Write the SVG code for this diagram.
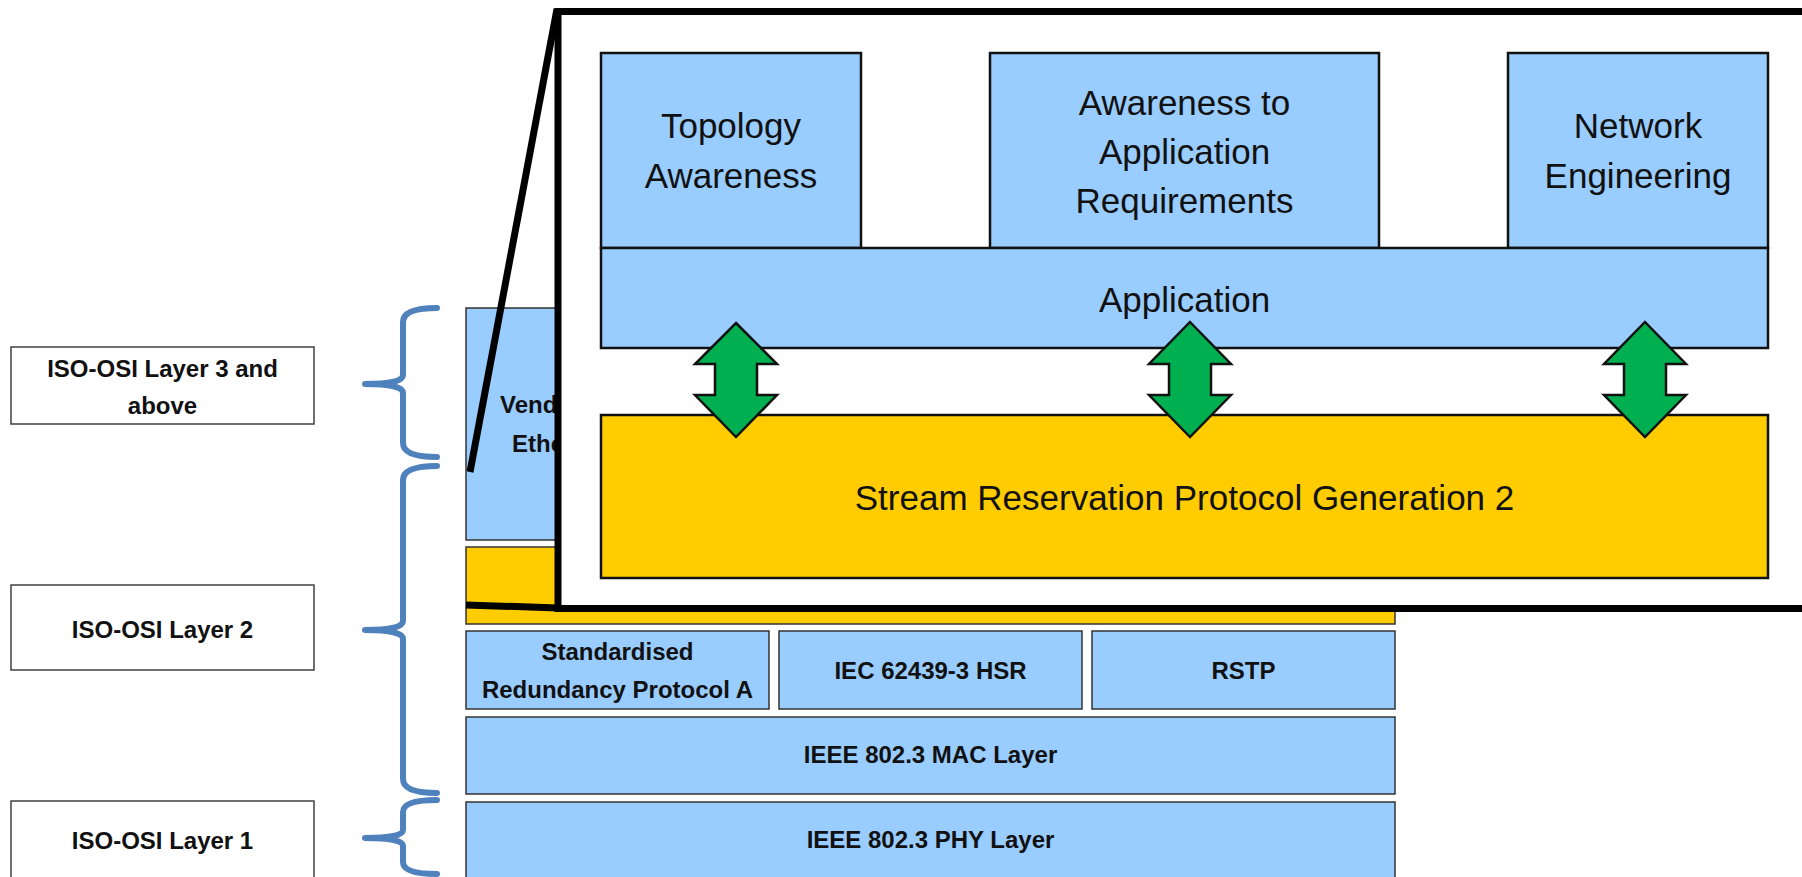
<svg xmlns="http://www.w3.org/2000/svg" width="1802" height="877" viewBox="0 0 1802 877">
<style>
.lbl{fill:#fff;stroke:#404040;stroke-width:1.5}
.blue{fill:#99CCFF;stroke:#333;stroke-width:1.5}
.yel{fill:#FFCC00;stroke:#333;stroke-width:1.5}
.iblue{fill:#99CCFF;stroke:#111;stroke-width:2.5}
.iyel{fill:#FFCC00;stroke:#111;stroke-width:2.5}
.tb{font-family:"Liberation Sans",Arial,sans-serif;font-weight:bold;font-size:24px;fill:#111;text-anchor:middle}
.tr{font-family:"Liberation Sans",Arial,sans-serif;font-size:35px;fill:#111;text-anchor:middle}
.brace{fill:none;stroke:#4F81BD;stroke-width:6;stroke-linecap:round;stroke-linejoin:round}
.zl{stroke:#000;stroke-width:7;fill:none}
.arr{fill:#00B050;stroke:#111;stroke-width:2.5;stroke-linejoin:miter}
</style>
<rect width="1802" height="877" fill="#fff"/>

<g id="label-l3">
<rect class="lbl" x="11" y="347" width="303" height="77"/>
<text class="tb" x="162.5" y="377">ISO-OSI Layer 3 and</text>
<text class="tb" x="162.5" y="414">above</text>
</g>
<g id="label-l2">
<rect class="lbl" x="11" y="585" width="303" height="85"/>
<text class="tb" x="162.5" y="638">ISO-OSI Layer 2</text>
</g>
<g id="label-l1">
<rect class="lbl" x="11" y="801" width="303" height="90"/>
<text class="tb" x="162.5" y="849">ISO-OSI Layer 1</text>
</g>

<g id="braces">
<path class="brace" d="M437 308 Q403 308 403 322 L403 375 Q403 384 365 384 Q403 384 403 393 L403 443 Q403 457 437 457"/>
<path class="brace" d="M437 466 Q403 466 403 480 L403 621 Q403 630 365 630 Q403 630 403 639 L403 779 Q403 793 437 793"/>
<path class="brace" d="M437 800 Q403 800 403 812 L403 830 Q403 838 365 838 Q403 838 403 846 L403 862 Q403 874 437 874"/>
</g>

<g id="vendor">
<rect class="blue" x="466" y="308" width="929" height="232"/>
<text class="tb" x="500" y="413" style="text-anchor:start">Vend</text>
<text class="tb" x="512" y="452" style="text-anchor:start">Ethe</text>
</g>
<g id="srp-strip">
<rect class="yel" x="466" y="547" width="929" height="77"/>
</g>
<g id="srpa">
<rect class="blue" x="466" y="631" width="303" height="78"/>
<text class="tb" x="617.5" y="660">Standardised</text>
<text class="tb" x="617.5" y="698">Redundancy Protocol A</text>
</g>
<g id="hsr">
<rect class="blue" x="779" y="631" width="303" height="78"/>
<text class="tb" x="930.5" y="679">IEC 62439-3 HSR</text>
</g>
<g id="rstp">
<rect class="blue" x="1092" y="631" width="303" height="78"/>
<text class="tb" x="1243.5" y="679">RSTP</text>
</g>
<g id="mac">
<rect class="blue" x="466" y="717" width="929" height="77"/>
<text class="tb" x="930.5" y="763">IEEE 802.3 MAC Layer</text>
</g>
<g id="phy">
<rect class="blue" x="466" y="802" width="929" height="90"/>
<text class="tb" x="930.5" y="848">IEEE 802.3 PHY Layer</text>
</g>

<g id="zoom-lines">
<line class="zl" x1="557" y1="9" x2="470" y2="472"/>
<line class="zl" x1="466" y1="605" x2="558" y2="608"/>
</g>

<g id="zoom-frame">
<rect x="558" y="11.5" width="1300" height="597" fill="#fff" stroke="#000" stroke-width="7"/>
</g>

<g id="topology">
<rect class="iblue" x="601" y="53" width="260" height="195"/>
<text class="tr" x="731" y="138">Topology</text>
<text class="tr" x="731" y="188">Awareness</text>
</g>
<g id="awareness">
<rect class="iblue" x="990" y="53" width="389" height="195"/>
<text class="tr" x="1184.5" y="115">Awareness to</text>
<text class="tr" x="1184.5" y="164">Application</text>
<text class="tr" x="1184.5" y="213">Requirements</text>
</g>
<g id="network">
<rect class="iblue" x="1508" y="53" width="260" height="195"/>
<text class="tr" x="1638" y="138">Network</text>
<text class="tr" x="1638" y="188">Engineering</text>
</g>
<g id="application">
<rect class="iblue" x="601" y="248" width="1167" height="100"/>
<text class="tr" x="1184.5" y="312">Application</text>
</g>
<g id="srp">
<rect class="iyel" x="601" y="415" width="1167" height="163"/>
<text class="tr" x="1184.5" y="510">Stream Reservation Protocol Generation 2</text>
</g>

<g id="connectors">
<path class="arr" d="M736 323 L777 364 L757 364 L757 395 L777 395 L736 437 L695 395 L715 395 L715 364 L695 364 Z"/>
<path class="arr" d="M1190 322 L1231 364 L1211 364 L1211 395 L1231 395 L1190 437 L1149 395 L1169 395 L1169 364 L1149 364 Z"/>
<path class="arr" d="M1645 322 L1686 364 L1666 364 L1666 395 L1686 395 L1645 437 L1604 395 L1624 395 L1624 364 L1604 364 Z"/>
</g>
</svg>
